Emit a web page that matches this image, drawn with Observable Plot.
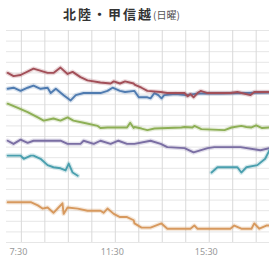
<!DOCTYPE html>
<html><head><meta charset="utf-8">
<script src="https://cdn.jsdelivr.net/npm/d3@7"></script>
<script src="https://cdn.jsdelivr.net/npm/@observablehq/plot@0.6"></script>
<style>
body{margin:0;background:#fff;font-family:"Noto Sans CJK JP","Noto Sans",sans-serif;}
#title{position:relative;width:269px;height:26px;}
#title .t{position:absolute;left:63px;top:7px;font-size:13px;line-height:14px;font-weight:bold;color:#333;letter-spacing:2px;white-space:nowrap;}
#title .t small{font-size:10px;font-weight:normal;color:#555;letter-spacing:0;}
</style></head><body>
<div id="title"><span class="t">北陸・甲信越<small>(日曜)</small></span></div>
<div id="chart"></div>
<script>
const titleMain = "北陸・甲信越";
const titleSub = "(日曜)";
const tickLabels = ["7:30", "11:30", "15:30"];
const gridHours = ["7:30","8:30","9:30","10:30","11:30","12:30","13:30","14:30","15:30","16:30","17:30"];
const xDomain = ["6:52", "18:04"];

const red = [["6:55",16.0],["7:10",15.7],["7:28",15.8],["8:01",16.4],["8:37",16.0],["8:52",16.0],["9:10",16.5],["9:28",15.9],["9:41",16.1],["10:01",15.6],["10:19",15.3],["10:52",15.1],["11:18",15.0],["11:26",15.2],["11:42",15.0],["11:55",15.2],["12:17",15.0],["12:19",14.9],["12:37",14.6],["12:52",14.3],["13:26",14.2],["13:43",14.1],["14:27",14.1],["14:35",13.8],["14:42",14.0],["14:50",13.7],["15:00",14.1],["15:08",14.3],["15:26",14.1],["16:24",14.1],["16:42",14.2],["17:15",13.9],["17:25",14.2],["18:04",14.2]];
const blue = [["6:55",14.5],["7:10",14.6],["7:28",14.3],["7:46",14.6],["8:01",14.8],["8:19",14.5],["8:37",14.6],["8:45",14.1],["8:58",14.5],["9:18",13.9],["9:36",13.4],["9:49",13.9],["10:09",14.1],["10:52",14.1],["11:10",14.3],["11:23",14.6],["11:42",14.3],["11:55",14.2],["12:19",14.3],["12:30",13.7],["12:52",13.7],["13:00",13.6],["13:10",14.1],["13:20",13.9],["13:28",13.6],["13:35",13.9],["14:04",14.0],["14:30",13.9],["15:00",14.05],["16:00",14.05],["17:00",14.1],["18:04",14.15]];
const green = [["6:55",13.1],["7:21",12.7],["7:46",12.3],["8:12",11.8],["8:27",11.5],["8:52",11.7],["9:10",11.5],["9:28",11.8],["9:43",11.5],["10:09",11.3],["10:45",11.0],["10:52",10.8],["11:10",10.85],["12:00",10.85],["12:08",11.3],["12:17",10.8],["12:19",10.9],["12:37",10.75],["12:52",10.6],["13:10",10.75],["14:19",10.85],["14:27",10.9],["14:47",10.85],["14:52",11.0],["15:10",10.7],["16:09",10.6],["16:27",10.85],["16:52",11.0],["17:05",10.9],["17:18",10.85],["17:30",11.05],["17:45",10.8],["18:04",10.85]];
const purple = [["6:55",9.6],["7:10",9.3],["7:28",9.7],["7:46",9.4],["8:01",9.6],["9:10",9.6],["9:28",9.3],["10:01",9.3],["10:09",9.6],["10:35",9.3],["10:52",9.6],["11:18",9.3],["11:38",9.6],["12:00",9.3],["12:19",9.3],["13:00",9.6],["13:26",9.3],["13:43",9.0],["14:27",8.9],["14:50",8.5],["15:26",8.9],["15:43",9.0],["16:50",9.0],["17:41",8.7],["18:04",8.9]];
const teal = [["6:55",8.2],["7:28",8.2],["7:36",7.9],["7:54",8.2],["8:01",8.2],["8:19",7.9],["8:37",7.3],["8:52",7.1],["9:10",7.0],["9:23",6.8],["9:31",7.45],["9:41",6.6],["9:54",6.3],["12:00",null],["15:36",6.6],["15:51",7.1],["16:42",7.1],["16:52",6.6],["17:05",7.1],["17:33",7.3],["17:53",7.9],["18:04",8.7]];
const orange = [["6:55",3.8],["7:54",3.8],["8:12",3.5],["8:24",3.2],["8:37",3.3],["8:52",2.8],["9:05",3.3],["9:15",3.7],["9:18",2.7],["9:28",3.3],["9:54",3.2],["10:19",3.0],["10:52",3.0],["11:00",2.8],["11:10",3.2],["11:26",2.7],["11:42",2.4],["12:00",2.4],["12:17",2.1],["12:19",1.8],["12:37",1.4],["13:00",1.4],["13:28",1.8],["13:43",1.3],["14:42",1.3],["14:52",1.6],["15:00",1.3],["16:24",1.3],["16:34",1.6],["16:52",1.3],["17:18",1.3],["17:25",1.8],["17:38",1.3],["17:56",1.6],["18:04",1.6]];

const seriesNames = ["blue","red","green","purple","teal","orange"];
const seriesColors = ["#4f7bb0","#a24f58","#8daf55","#7a6ea3","#4a9fae","#d7995e"];
const seriesData = [blue, red, green, purple, teal, orange];

const parseT = s => { const [h, m] = s.split(":").map(Number); return h + m / 60; };
const fmtT = h => { const hh = Math.floor(h + 1e-6); const mm = Math.round((h - hh) * 60); return hh + ":" + String(mm).padStart(2, "0"); };

const marks = [
  Plot.ruleY(d3.range(0, 21), {stroke: "#e6e6e6", strokeWidth: 1}),
  Plot.ruleX(gridHours.map(parseT), {stroke: "#d9d9d9", strokeWidth: 1})
];
seriesData.forEach((arr, i) => {
  const rows = arr.map(([t, v]) => ({t: parseT(t), v: v}));
  marks.push(Plot.line(rows, {x: "t", y: "v", stroke: seriesColors[i], strokeWidth: 4.5, strokeOpacity: 0.22, curve: "linear"}));
  marks.push(Plot.line(rows, {x: "t", y: "v", stroke: seriesColors[i], strokeWidth: 1.9, curve: "linear"}));
});
marks.push(Plot.axisX({ticks: tickLabels.map(parseT), tickFormat: fmtT, tickSize: 0, tickPadding: 6, dx: -3, label: null, fill: "#999"}));

const chart = Plot.plot({
  width: 269, height: 234,
  marginTop: 4, marginBottom: 18, marginLeft: 6, marginRight: 0,
  x: {domain: xDomain.map(parseT)},
  y: {domain: [0, 20], axis: null},
  style: {fontSize: "9px", fontFamily: "'Noto Sans', sans-serif", color: "#999", background: "#fff"},
  marks
});
document.getElementById("chart").appendChild(chart);
</script>
</body></html>
